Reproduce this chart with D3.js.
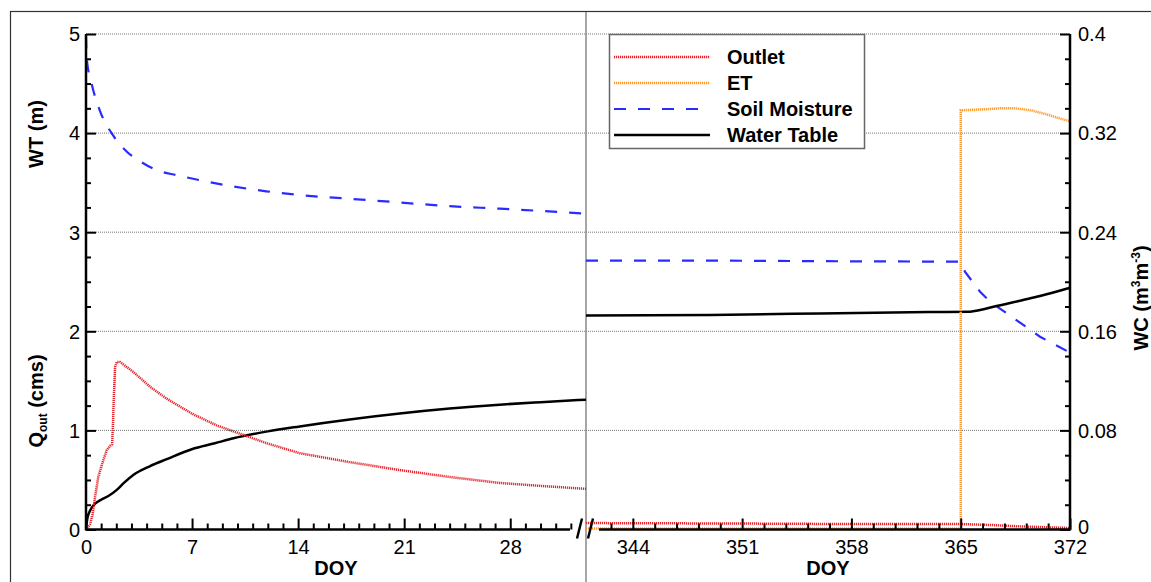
<!DOCTYPE html>
<html>
<head>
<meta charset="utf-8">
<script src="https://cdn.jsdelivr.net/npm/d3@7"></script>
<style>
  body { margin: 0; background: #fff; }
  text { font-family: Arial, "Liberation Sans", sans-serif; fill: #000; }
</style>
</head>
<body>
<div id="chart"></div>
<script>
// data
// left panel (DOY 0-33)
var outletLeft = [[0,0],[0.26,0.05],[0.44,0.16],[0.6,0.33],[0.81,0.53],[1.14,0.70],[1.37,0.80],[1.63,0.85],[1.72,0.86],[1.78,1.05],[1.84,1.35],[1.92,1.64],[2.03,1.69],[2.25,1.69],[3.12,1.59],[4.23,1.44],[5.33,1.32],[6.98,1.17],[8.63,1.05],[9.73,0.99],[11.94,0.87],[14.1,0.77],[17.4,0.68],[20.7,0.60],[24,0.53],[27.3,0.47],[30,0.44],[33,0.41]];
var waterTableLeft = [[0,0.01],[0.1,0.12],[0.3,0.2],[0.6,0.26],[1.0,0.30],[1.5,0.34],[2.03,0.40],[2.5,0.47],[3.12,0.55],[4.23,0.64],[5.33,0.71],[6.98,0.81],[8.5,0.87],[9.73,0.92],[12,0.99],[14.1,1.04],[17.4,1.11],[20.7,1.17],[24,1.22],[27.3,1.26],[30,1.285],[33,1.31]];
var soilLeft = [[0,0.398],[0.05,0.38],[0.37,0.360],[0.92,0.338],[1.8,0.318],[2.7,0.305],[3.6,0.297],[4.7,0.290],[6.0,0.286],[7.5,0.282],[9.7,0.277],[11.9,0.273],[14.1,0.270],[17.4,0.267],[20.7,0.264],[24,0.261],[27.3,0.259],[33,0.255]];

// right panel (DOY 341-372)
var outletRight = [[341,0.065],[351,0.06],[358,0.055],[365,0.055],[367,0.045],[369,0.03],[372,0.015]];
var etRight = [[341,0.01],[365,0.01],[365,4.23],[366.5,4.24],[367.5,4.25],[368.5,4.25],[369.5,4.23],[370.5,4.19],[371.5,4.14],[372,4.12]];
var waterTableRight = [[341,2.16],[349,2.165],[356,2.18],[363,2.195],[365.6,2.198],[366.24,2.215],[367.1,2.248],[369.0,2.316],[370.08,2.356],[372,2.44]];
var soilRight = [[341,0.217],[350,0.217],[358,0.2165],[365,0.2162],[365.27,0.2081],[366.24,0.192],[366.88,0.1839],[367.95,0.1745],[369.23,0.1632],[370.08,0.1556],[372,0.1428]];

var leftTicksX = [0,7,14,21,28];
var rightTicksX = [344,351,358,365,372];
var wtTicks = [0,1,2,3,4,5];
var wcTicks = [0,0.08,0.16,0.24,0.32,0.4];
var legendNames = ["Outlet","ET","Soil Moisture","Water Table"];

var svgWidth = 1151, svgHeight = 582;

var svg = d3.select("#chart").append("svg")
  .attr("width", svgWidth)
  .attr("height", svgHeight);

// scales
var xLeft = d3.scaleLinear().domain([0,33]).range([86,586]);
var xRight = d3.scaleLinear().domain([341,372]).range([586,1070]);
var yWT = d3.scaleLinear().domain([0,5]).range([529.5,34]);
var yWC = d3.scaleLinear().domain([0,0.4]).range([529.5,34]);

// outer frame (only top/left visible)
svg.append("rect")
  .attr("x", 10.5).attr("y", 11.5)
  .attr("width", 1200).attr("height", 600)
  .attr("fill", "none").attr("stroke", "#333").attr("stroke-width", 1.2);

// grid
svg.append("g").selectAll("line")
  .data(wtTicks.slice(1))
  .enter().append("line")
  .attr("x1", xLeft(0)).attr("x2", xRight(372))
  .attr("y1", d => yWT(d)).attr("y2", d => yWT(d))
  .attr("stroke", "#777").attr("stroke-width", 1)
  .attr("stroke-dasharray", "1,1");

// panel separator
svg.append("line")
  .attr("x1", xLeft(33)).attr("x2", xLeft(33))
  .attr("y1", 12).attr("y2", svgHeight)
  .attr("stroke", "#888").attr("stroke-width", 1.5);

// line generators
var lineL = d3.line().x(d => xLeft(d[0])).y(d => yWT(d[1]));
var lineLsm = d3.line().x(d => xLeft(d[0])).y(d => yWC(d[1])).curve(d3.curveMonotoneX);
var lineLwt = d3.line().x(d => xLeft(d[0])).y(d => yWT(d[1])).curve(d3.curveMonotoneX);
var lineR = d3.line().x(d => xRight(d[0])).y(d => yWT(d[1]));
var lineRsm = d3.line().x(d => xRight(d[0])).y(d => yWC(d[1]));
var lineRwt = d3.line().x(d => xRight(d[0])).y(d => yWT(d[1])).curve(d3.curveMonotoneX);

var styles = {
  outlet: {stroke: "#e8232b", width: 2.5, dash: "1.2,0.8"},
  et: {stroke: "#ff9a2e", width: 2.5, dash: "1.2,0.8"},
  soil: {stroke: "#2b2bff", width: 2.2, dash: "12,12"},
  wt: {stroke: "#000", width: 2.5, dash: null}
};

function drawPath(data, gen, st) {
  svg.append("path")
    .datum(data)
    .attr("d", gen)
    .attr("fill", "none")
    .attr("stroke", st.stroke)
    .attr("stroke-width", st.width)
    .attr("stroke-dasharray", st.dash);
}

drawPath(soilLeft, lineLsm, styles.soil);
drawPath(waterTableLeft, lineLwt, styles.wt);
drawPath(outletLeft, lineL, styles.outlet);

drawPath(soilRight, lineRsm, styles.soil);
drawPath(waterTableRight, lineRwt, styles.wt);
drawPath(etRight, lineR, styles.et);
drawPath(outletRight, lineR, styles.outlet);

// x axes
var y0 = yWT(0);
var axisL = d3.axisBottom(xLeft).tickValues(leftTicksX).tickSizeInner(-11).tickSizeOuter(0).tickPadding(10);
var gL = svg.append("g").attr("transform", `translate(0,${y0})`).call(axisL);
gL.select(".domain").remove();
var minorL = d3.axisBottom(xLeft).tickValues(d3.range(1,33).filter(d => d % 7 != 0)).tickSize(-6).tickFormat("");
var gLm = svg.append("g").attr("transform", `translate(0,${y0})`).call(minorL);
gLm.select(".domain").remove();

var axisR = d3.axisBottom(xRight).tickValues(rightTicksX).tickSizeInner(-11).tickSizeOuter(0).tickPadding(10);
var gR = svg.append("g").attr("transform", `translate(0,${y0})`).call(axisR);
gR.select(".domain").remove();
var minorRvals = [];
rightTicksX.forEach(function(t){ for (var k = 1; k < 5; k++) minorRvals.push(t - 1.4*k); });
var minorR = d3.axisBottom(xRight).tickValues(minorRvals.filter(d => d > 342)).tickSize(-6).tickFormat("");
var gRm = svg.append("g").attr("transform", `translate(0,${y0})`).call(minorR);
gRm.select(".domain").remove();

// axis base lines with the break
svg.append("line").attr("x1", xLeft(0)).attr("x2", 570).attr("y1", y0).attr("y2", y0)
  .attr("stroke", "#000").attr("stroke-width", 2.5);
svg.append("line").attr("x1", 599).attr("x2", xRight(372)).attr("y1", y0).attr("y2", y0)
  .attr("stroke", "#000").attr("stroke-width", 2.5);
[577, 588].forEach(function(bx){
  svg.append("line").attr("x1", bx).attr("x2", bx + 5).attr("y1", y0 + 9).attr("y2", y0 - 11)
    .attr("stroke", "#000").attr("stroke-width", 2.5);
});

// left y axis
var axisY = d3.axisLeft(yWT).tickValues(wtTicks).tickSizeInner(-10).tickSizeOuter(0).tickPadding(6)
  .tickFormat(d3.format("d"));
var gY = svg.append("g").attr("transform", `translate(${xLeft(0)},0)`).call(axisY);
gY.select(".domain").remove();
var minorY = d3.axisLeft(yWT).tickValues(d3.range(0,5,0.25).filter(d => d % 1 != 0)).tickSize(-5).tickFormat("");
var gYm = svg.append("g").attr("transform", `translate(${xLeft(0)},0)`).call(minorY);
gYm.select(".domain").remove();
svg.append("line").attr("x1", xLeft(0)).attr("x2", xLeft(0)).attr("y1", yWT(5)).attr("y2", y0 + 1)
  .attr("stroke", "#000").attr("stroke-width", 2.5);

// right y axis
var axisWC = d3.axisRight(yWC).tickValues(wcTicks).tickSizeInner(-10).tickSizeOuter(0).tickPadding(8)
  .tickFormat(d => d == 0 ? "0" : String(+d.toFixed(2)));
var gW = svg.append("g").attr("transform", `translate(${xRight(372)},0)`).call(axisWC);
gW.select(".domain").remove();
var minorW = d3.axisRight(yWC).tickValues(d3.range(0.02,0.4,0.02).filter((d,i) => (i+1) % 4 != 0)).tickSize(-5).tickFormat("");
var gWm = svg.append("g").attr("transform", `translate(${xRight(372)},0)`).call(minorW);
gWm.select(".domain").remove();
svg.append("line").attr("x1", xRight(372)).attr("x2", xRight(372)).attr("y1", yWC(0.4)).attr("y2", y0 + 1)
  .attr("stroke", "#000").attr("stroke-width", 2.5);

svg.selectAll(".tick line").attr("stroke", "#000").attr("stroke-width", 2);
svg.selectAll("g").attr("font-size", null).attr("font-family", null);
svg.selectAll(".tick text")
  .style("font-size", "20px")
  .style("font-family", "Arial, 'Liberation Sans', sans-serif");
gY.selectAll("text").attr("dy", "0.34em");
gW.selectAll("text").attr("dy", d => d == 0 ? "0.2em" : "0.34em");

// axis titles
function title(sel) {
  return sel.append("text")
    .attr("text-anchor", "middle")
    .style("font-size", "20px")
    .style("font-weight", "bold");
}
title(svg).attr("x", (xLeft(0) + xLeft(33)) / 2).attr("y", 575).text("DOY");
title(svg).attr("x", (xRight(341) + xRight(372)) / 2).attr("y", 575).text("DOY");

title(svg).attr("transform", "translate(43,134) rotate(-90)").text("WT (m)");

var qLabel = title(svg).attr("transform", "translate(43,401) rotate(-90)");
qLabel.append("tspan").text("Q");
qLabel.append("tspan").style("font-size", "12px").attr("dy", 4).text("out");
qLabel.append("tspan").attr("dy", -4).text(" (cms)");

var wcLabel = title(svg).attr("transform", "translate(1148,298) rotate(-90)");
wcLabel.append("tspan").text("WC (m");
wcLabel.append("tspan").style("font-size", "12px").attr("dy", -8).text("3");
wcLabel.append("tspan").attr("dy", 8).text("m");
wcLabel.append("tspan").style("font-size", "12px").attr("dy", -8).text("-3");
wcLabel.append("tspan").attr("dy", 8).text(")");

// legend
var legend = svg.append("g");
legend.append("rect")
  .attr("x", 609.5).attr("y", 34.5).attr("width", 255).attr("height", 114)
  .attr("fill", "#fff").attr("stroke", "#666").attr("stroke-width", 1.5);
var legendStyles = [styles.outlet, styles.et, styles.soil, styles.wt];
legendNames.forEach(function(name, i){
  var ly = 57 + i * 26;
  var st = legendStyles[i];
  legend.append("line")
    .attr("x1", 614).attr("x2", 710).attr("y1", ly).attr("y2", ly)
    .attr("stroke", st.stroke).attr("stroke-width", st.width)
    .attr("stroke-dasharray", st.dash);
  legend.append("text")
    .style("font-size", "20px").style("font-weight", "bold")
    .attr("x", 727).attr("y", ly + 7).text(name);
});
</script>
</body>
</html>
